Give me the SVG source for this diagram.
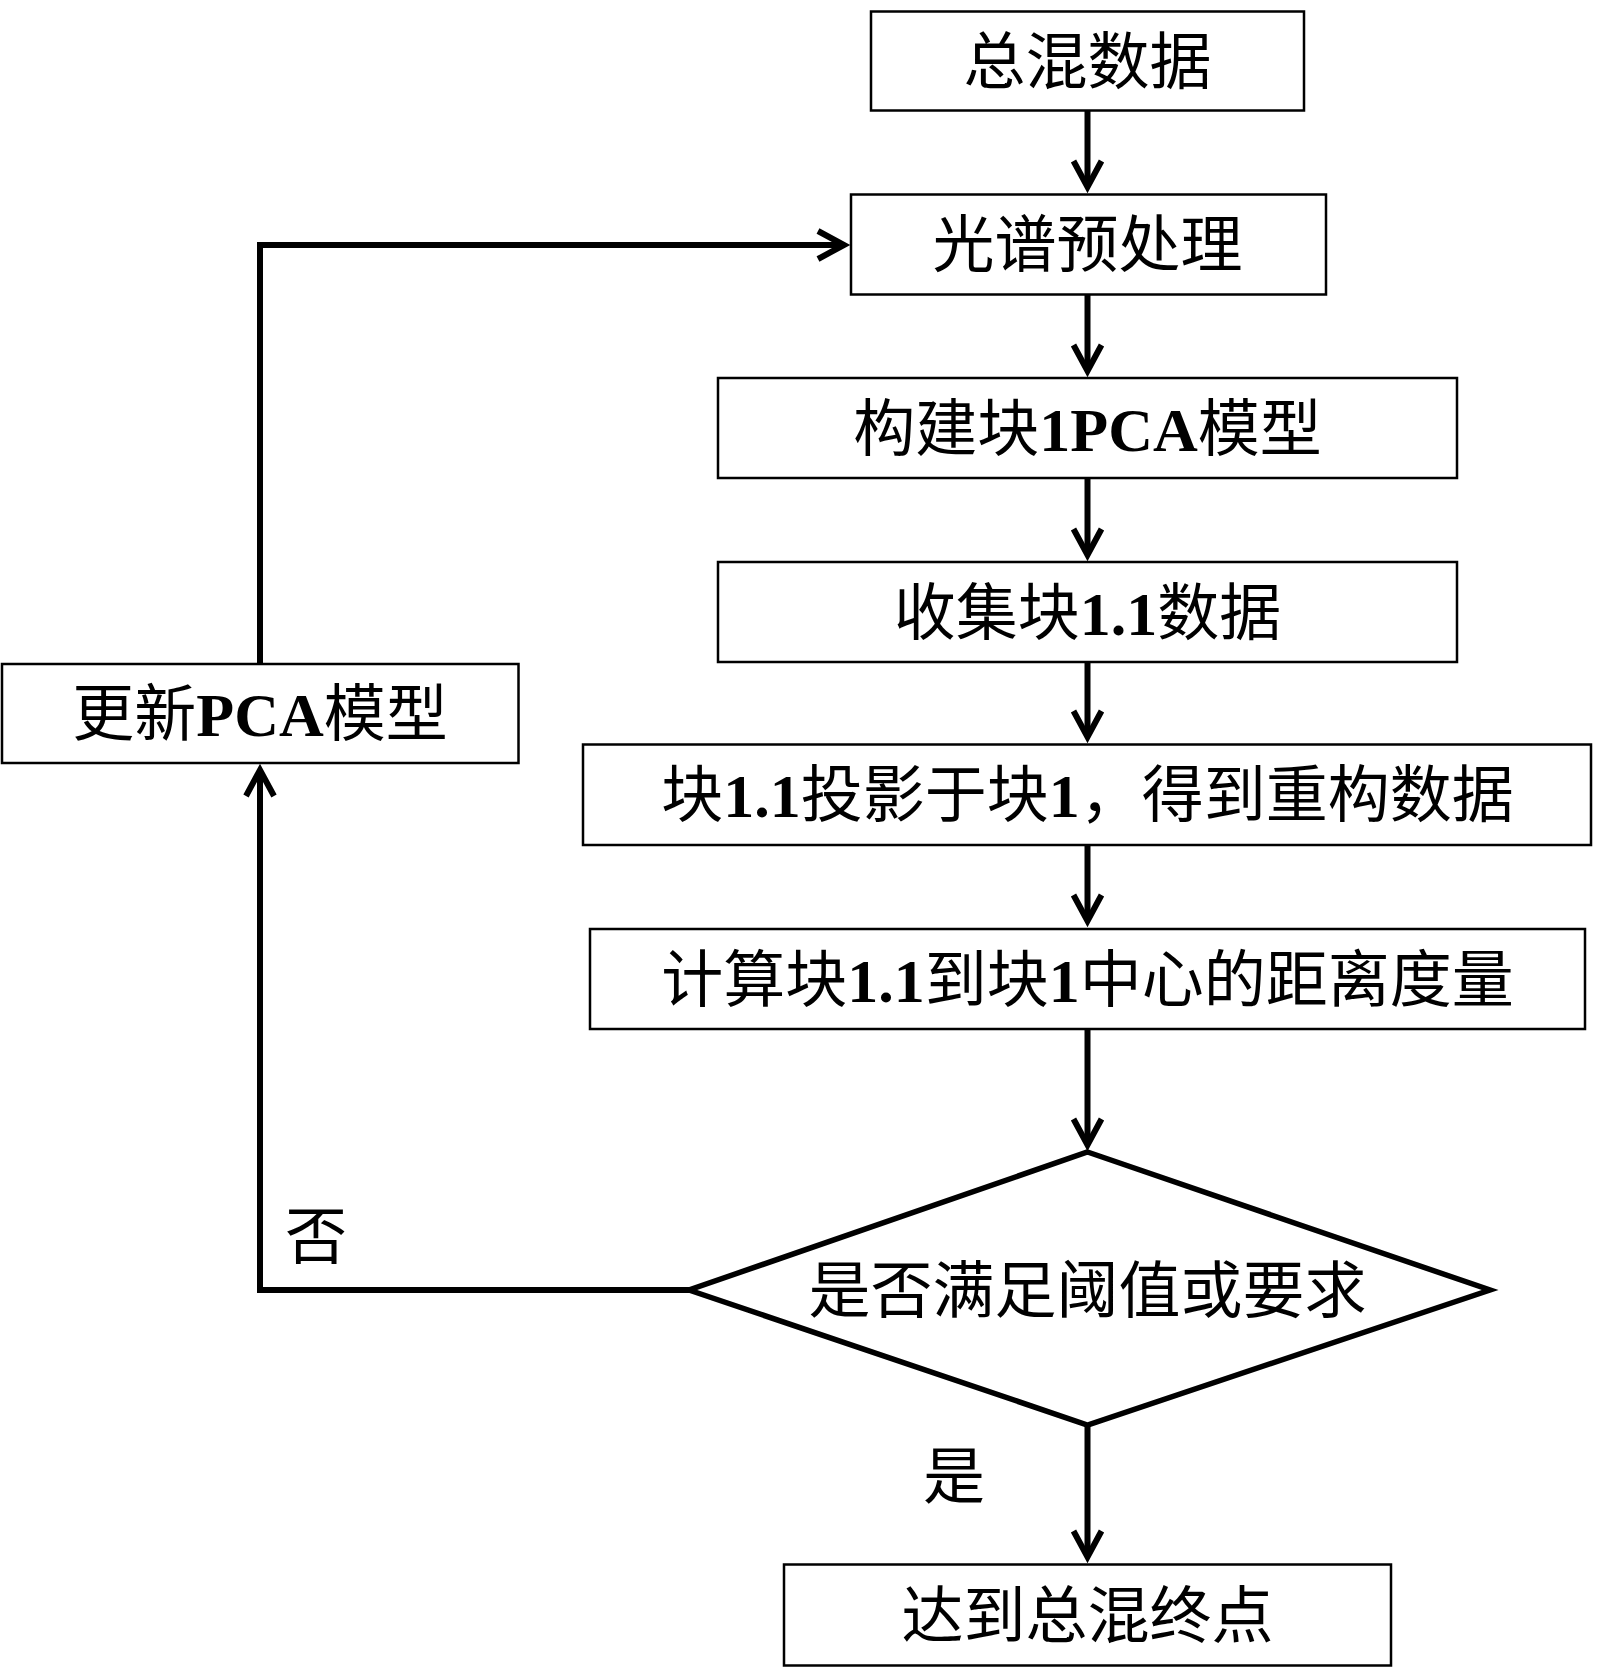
<svg xmlns="http://www.w3.org/2000/svg" width="1600" height="1675" viewBox="0 0 1600 1675">
<defs>
<style>
.box{fill:#fff;stroke:#000;stroke-width:2.5}
.dia{fill:#fff;stroke:#000;stroke-width:5.5;stroke-linejoin:miter}
.t{font-family:"Noto Sans CJK SC","Liberation Serif",serif;font-size:62px;fill:#000;text-anchor:middle}
.l{font-family:"Liberation Serif",serif;font-weight:bold}
.c{fill:none;stroke:#000;stroke-width:6}
</style>
<marker id="arr" markerUnits="userSpaceOnUse" markerWidth="44" markerHeight="44" viewBox="-4 -22 44 44" refX="25" refY="0" orient="auto" overflow="visible">
<path d="M2,-14 L28,0 L2,14" fill="none" stroke="#000" stroke-width="6" stroke-linejoin="miter"/>
</marker>
</defs>
<rect width="1600" height="1675" fill="#fff"/>
<g id="connectors">
<line class="c" x1="1087.5" y1="111" x2="1087.5" y2="184" marker-end="url(#arr)"/>
<line class="c" x1="1087.5" y1="295" x2="1087.5" y2="368" marker-end="url(#arr)"/>
<line class="c" x1="1087.5" y1="478" x2="1087.5" y2="552" marker-end="url(#arr)"/>
<line class="c" x1="1087.5" y1="662" x2="1087.5" y2="734" marker-end="url(#arr)"/>
<line class="c" x1="1087.5" y1="845" x2="1087.5" y2="918" marker-end="url(#arr)"/>
<line class="c" x1="1087.5" y1="1029" x2="1087.5" y2="1142" marker-end="url(#arr)"/>
<line class="c" x1="1087.5" y1="1425" x2="1087.5" y2="1554" marker-end="url(#arr)"/>
<polyline class="c" points="689,1290 260,1290 260,773" marker-end="url(#arr)"/>
<polyline class="c" points="260,664 260,245 841,245" marker-end="url(#arr)"/>
</g>
<g id="n1"><rect class="box" x="871" y="11.5" width="433" height="99"/><text class="t" x="1087.5" y="84">总混数据</text></g>
<g id="n2"><rect class="box" x="851" y="194.5" width="475" height="100"/><text class="t" x="1087.5" y="267">光谱预处理</text></g>
<g id="n3"><rect class="box" x="718" y="378" width="739" height="100"/><text class="t" x="1087.5" y="451">构建块<tspan class="l">1PCA</tspan>模型</text></g>
<g id="n4"><rect class="box" x="718" y="562" width="739" height="100"/><text class="t" x="1087.5" y="635">收集块<tspan class="l">1.1</tspan>数据</text></g>
<g id="n5"><rect class="box" x="583" y="744.5" width="1008" height="100.5"/><text class="t" x="1087.5" y="817">块<tspan class="l">1.1</tspan>投影于块<tspan class="l">1</tspan>，得到重构数据</text></g>
<g id="n6"><rect class="box" x="590" y="929" width="995" height="100"/><text class="t" x="1087.5" y="1002">计算块<tspan class="l">1.1</tspan>到块<tspan class="l">1</tspan>中心的距离度量</text></g>
<g id="n7"><polygon class="dia" points="1087.5,1152 1490,1290 1087.5,1425 689,1290"/><text class="t" x="1087.5" y="1313">是否满足阈值或要求</text></g>
<g id="n8"><rect class="box" x="784" y="1564.5" width="607" height="101"/><text class="t" x="1087.5" y="1638">达到总混终点</text></g>
<g id="n9"><rect class="box" x="2" y="664" width="516.5" height="99"/><text class="t" x="260" y="736">更新<tspan class="l">PCA</tspan>模型</text></g>
<g id="labels"><text class="t" x="316" y="1259">否</text><text class="t" x="954" y="1499">是</text></g>
</svg>
